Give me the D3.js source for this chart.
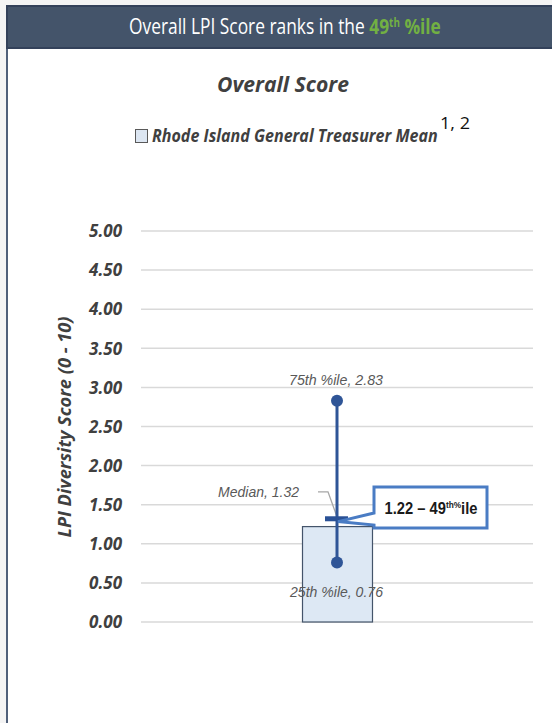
<!DOCTYPE html>
<html><head><meta charset="utf-8">
<script src="https://cdn.jsdelivr.net/npm/d3@7"></script>
<style>html,body{margin:0;padding:0;background:#f4f4f4;}svg{display:block;}</style>
</head><body>
<svg id="c" width="552" height="723"></svg>
<script>
const categories = ["Rhode Island General Treasurer Mean"];
const meanValues = [1.22];
const p25Values = [0.76];
const p75Values = [2.83];
const medianValues = [1.32];
const percentileRank = [49];
const yTicks = [0, 0.5, 1, 1.5, 2, 2.5, 3, 3.5, 4, 4.5, 5];

const svg = d3.select("#c");
const BOLDI = "'Open Sans', sans-serif";

// frame
svg.append("rect").attr("x",6).attr("y",5).attr("width",560).attr("height",730).attr("fill","#ffffff");
svg.append("line").attr("x1",7).attr("x2",7).attr("y1",48).attr("y2",723).attr("stroke","#50607a").attr("stroke-width",2);
svg.append("rect").attr("x",6).attr("y",5).attr("width",560).attr("height",44).attr("fill","#44546a");
svg.append("rect").attr("x",7).attr("y",6).attr("width",560).attr("height",42).attr("fill","none").attr("stroke","#33415a").attr("stroke-width",2);

function fitWidth(t, target, cx){
  const w = t.node().getComputedTextLength();
  const s = target / w;
  t.attr("transform", `translate(${cx},0) scale(${s},1) translate(${-cx},0)`);
}

// header
const ht = svg.append("text").attr("x",285).attr("y",34).attr("text-anchor","middle")
  .attr("font-family","'Open Sans', sans-serif").attr("font-size",21).attr("fill","#ffffff");
ht.append("tspan").text("Overall LPI Score ranks in the ");
ht.append("tspan").attr("fill","#72b043").attr("font-weight","bold").text(String(percentileRank[0]));
ht.append("tspan").attr("fill","#72b043").attr("font-weight","bold").attr("font-size",12).attr("dy",-7).text("th");
ht.append("tspan").attr("fill","#72b043").attr("font-weight","bold").attr("dy",7).text(" %ile");
fitWidth(ht, 312, 285);

// chart title
const tt = svg.append("text").attr("x",283).attr("y",92).attr("text-anchor","middle")
  .attr("font-family",BOLDI).attr("font-weight","bold").attr("font-style","italic")
  .attr("font-size",22).attr("fill","#404040").text("Overall Score");
fitWidth(tt, 132, 283);

// legend
svg.append("rect").attr("x",135.5).attr("y",129.5).attr("width",12).attr("height",13)
  .attr("fill","#dce6f2").attr("stroke","#595959").attr("stroke-width",1);
const lt = svg.append("text").attr("x",152).attr("y",142)
  .attr("font-family",BOLDI).attr("font-weight","bold").attr("font-style","italic")
  .attr("font-size",18).attr("fill","#404040").text(categories[0]);
fitWidth(lt, 286, 152);
const st = svg.append("text").attr("x",440).attr("y",129)
  .attr("font-family","'Open Sans', sans-serif").attr("font-size",17).attr("fill","#111111").text("1, 2");
fitWidth(st, 30, 440);

// scales
const y = d3.scaleLinear().domain([0,5]).range([622,231]);
const x = d3.scaleBand().domain(categories).range([141,533]).padding(0.697);

// gridlines
svg.append("g").selectAll("line").data(yTicks).join("line")
  .attr("x1",141).attr("x2",533).attr("y1",d=>y(d)).attr("y2",d=>y(d))
  .attr("stroke","#d9d9d9").attr("stroke-width",1.5);

// y axis labels
const yAxis = d3.axisLeft(y).tickValues(yTicks).tickFormat(d3.format(".2f")).tickSize(0).tickPadding(0);
const ga = svg.append("g").attr("transform","translate(122,0)").call(yAxis);
ga.select(".domain").remove();
ga.selectAll("text").attr("font-family",BOLDI).attr("font-weight","bold").attr("font-style","italic")
  .attr("font-size",17).attr("fill","#404040").attr("dy","0.34em");

// y axis title
const yt = svg.append("text").attr("x",0).attr("y",0).attr("transform","translate(71,427) rotate(-90)").attr("text-anchor","middle")
  .attr("font-family",BOLDI).attr("font-weight","bold").attr("font-style","italic")
  .attr("font-size",17).attr("fill","#404040").attr("textLength",221).attr("lengthAdjust","spacingAndGlyphs")
  .text("LPI Diversity Score (0 - 10)");

// bar
svg.append("g").selectAll("rect").data(categories).join("rect")
  .attr("x",d=>x(d)+0.5).attr("width",x.bandwidth())
  .attr("y",(d,i)=>y(meanValues[i])).attr("height",(d,i)=>y(0)-y(meanValues[i]))
  .attr("fill","#dde8f4").attr("stroke","#44546a").attr("stroke-width",1.2);

const cx = x(categories[0]) + x.bandwidth()/2;

// median leader line
const labelFont = "'Liberation Sans', Arial, sans-serif";
svg.append("path").attr("d",`M${cx-19},${y(medianValues[0])-27} H${cx-9} L${cx},${y(medianValues[0])-2}`)
  .attr("fill","none").attr("stroke","#a6a6a6").attr("stroke-width",1.3);

// whisker
svg.append("line").attr("x1",cx).attr("x2",cx).attr("y1",y(p75Values[0])).attr("y2",y(p25Values[0]))
  .attr("stroke","#2f5597").attr("stroke-width",3);
svg.append("g").selectAll("circle").data([p75Values[0], p25Values[0]]).join("circle")
  .attr("cx",cx).attr("cy",d=>y(d)).attr("r",6).attr("fill","#2f5597");
svg.append("rect").attr("x",cx-12).attr("y",y(medianValues[0])-2.5).attr("width",23).attr("height",5)
  .attr("fill","#2a5196");

// callout
const my = y(meanValues[0]);
const bx0 = 374, bx1 = 487, by0 = 487, by1 = 528;
svg.append("path")
  .attr("d",`M${bx0},${by0} H${bx1} V${by1} H${bx0} V${525} L${cx+1},${my-5} L${bx0},${513} Z`)
  .attr("fill","#ffffff").attr("stroke","#4a7cc4").attr("stroke-width",3).attr("stroke-linejoin","miter");
const ct = svg.append("text").attr("x",431).attr("y",514).attr("text-anchor","middle")
  .attr("font-family","'Liberation Sans', Arial, sans-serif").attr("font-weight","bold")
  .attr("font-size",16).attr("fill","#1a1a1a");
ct.append("tspan").text(d3.format(".2f")(meanValues[0]) + " \u2013 " + percentileRank[0]);
ct.append("tspan").attr("font-size",9).attr("dy",-6).text("th%");
ct.append("tspan").attr("dy",6).text("ile");
fitWidth(ct, 93, 431);

// data labels
function lbl(txt, xx, yy, anchor, w){
  const t = svg.append("text").attr("x",xx).attr("y",yy).attr("text-anchor",anchor)
    .attr("font-family",labelFont).attr("font-style","italic").attr("font-size",14.5).attr("fill","#595959").text(txt);
  fitWidth(t, w, xx);
}
lbl("75th %ile, " + d3.format(".2f")(p75Values[0]), 336, y(p75Values[0])-16, "middle", 94);
lbl("25th %ile, " + d3.format(".2f")(p25Values[0]), 336.5, y(p25Values[0])+34, "middle", 93);
lbl("Median, " + d3.format(".2f")(medianValues[0]), 299, y(medianValues[0])-22, "end", 81);
</script>
</body></html>
